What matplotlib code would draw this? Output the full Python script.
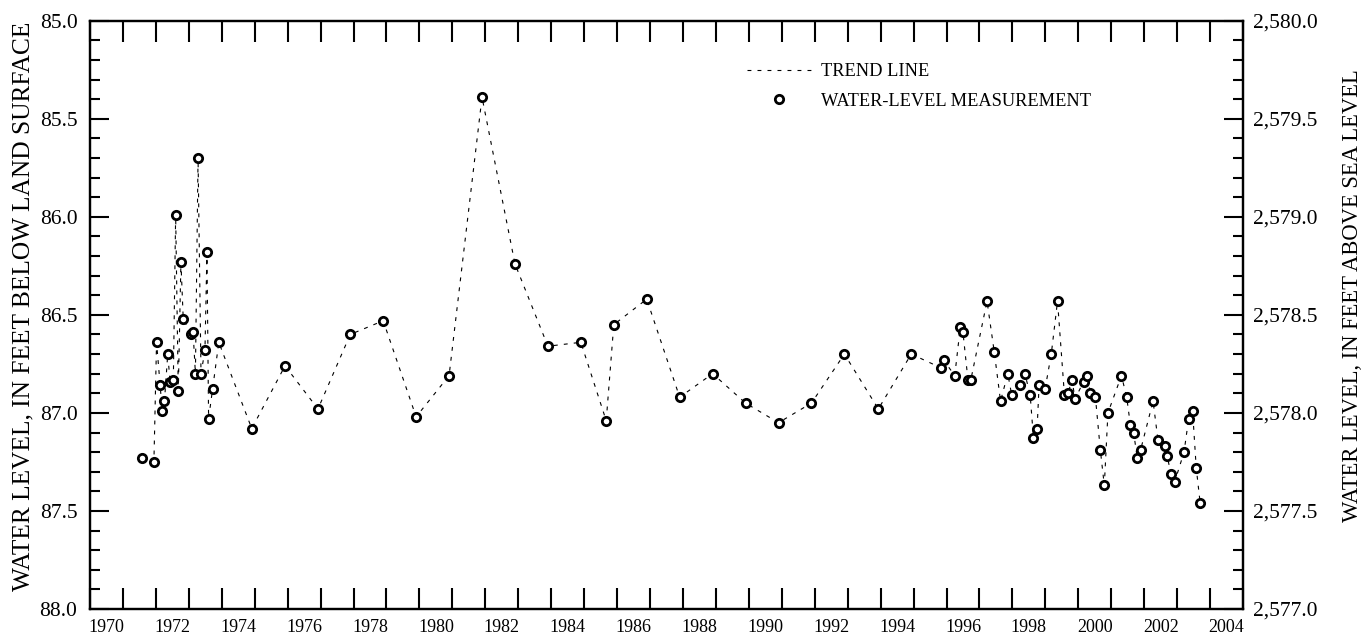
import matplotlib
matplotlib.use('Agg')
import matplotlib.pyplot as plt
from matplotlib.ticker import MultipleLocator, FuncFormatter

plt.rcParams['font.family'] = 'Liberation Serif'

# measurement dates (decimal years) and depth to water (ft below land surface)
dec_year = [1971.58, 1971.94, 1972.02, 1972.13, 1972.19, 1972.26, 1972.36, 1972.43,
            1972.53, 1972.60, 1972.68, 1972.76, 1972.83, 1973.07, 1973.13, 1973.20,
            1973.28, 1973.37, 1973.49, 1973.55, 1973.60, 1973.72, 1973.91, 1974.91,
            1975.92, 1976.92, 1977.90, 1978.90, 1979.90, 1980.90, 1981.90, 1982.90,
            1983.90, 1984.90, 1985.67, 1985.90, 1986.90, 1987.90, 1988.90, 1989.90,
            1990.90, 1991.90, 1992.90, 1993.93, 1994.93,
            1995.83, 1995.91, 1996.25, 1996.42, 1996.50, 1996.65, 1996.74, 1997.23,
            1997.45, 1997.64, 1997.86, 1997.98, 1998.24, 1998.38, 1998.54, 1998.64,
            1998.75, 1998.81, 1998.99, 1999.18, 1999.37, 1999.58, 1999.69, 1999.81,
            1999.90, 2000.16, 2000.27, 2000.37, 2000.52, 2000.67, 2000.79, 2000.90,
            2001.31, 2001.47, 2001.58, 2001.68, 2001.79, 2001.89, 2002.27, 2002.42,
            2002.62, 2002.70, 2002.81, 2002.93, 2003.21, 2003.35, 2003.47, 2003.58,
            2003.70]
depth_ft = [87.23, 87.25, 86.64, 86.86, 86.99, 86.94, 86.70, 86.84,
            86.83, 85.99, 86.89, 86.23, 86.52, 86.60, 86.59, 86.80,
            85.70, 86.80, 86.68, 86.18, 87.03, 86.88, 86.64, 87.08,
            86.76, 86.98, 86.60, 86.53, 87.02, 86.81, 85.39, 86.24,
            86.66, 86.64, 87.04, 86.55, 86.42, 86.92, 86.80, 86.95,
            87.05, 86.95, 86.70, 86.98, 86.70,
            86.77, 86.73, 86.81, 86.56, 86.59, 86.83, 86.83, 86.43,
            86.69, 86.94, 86.80, 86.91, 86.86, 86.80, 86.91, 87.13,
            87.08, 86.86, 86.88, 86.70, 86.43, 86.91, 86.90, 86.83,
            86.93, 86.84, 86.81, 86.90, 86.92, 87.19, 87.37, 87.00,
            86.81, 86.92, 87.06, 87.10, 87.23, 87.19, 86.94, 87.14,
            87.17, 87.22, 87.31, 87.35, 87.20, 87.03, 86.99, 87.28,
            87.46]
land_surface_alt = 2665.0
label_years = list(range(1970, 2005, 2))

fig = plt.figure(figsize=(13.64, 6.38), dpi=100)
ax = fig.add_axes([90 / 1364, 1 - 609 / 638, (1243 - 90) / 1364, (609 - 20.7) / 638])

trend, = ax.plot(dec_year, depth_ft, color='black', lw=0.8, linestyle=(0, (3.5, 5.5)))
meas, = ax.plot(dec_year, depth_ft, linestyle='none', marker='o', ms=6,
                mfc='white', mec='black', mew=2.0)

ax.set_xlim(1970, 2005)
ax.set_ylim(88, 85)

# year tick marks, labels centred in the year
ax.set_xticks(range(1970, 2006))
ax.set_xticklabels([])
ax.set_xticks([y + 0.5 for y in label_years], minor=True)
ax.set_xticklabels([str(y) for y in label_years], minor=True)
ax.tick_params(axis='x', which='major', direction='in', length=15, width=1.5,
               top=True, bottom=True)
ax.tick_params(axis='x', which='minor', length=0, pad=7, labelsize=13)

ax.yaxis.set_major_locator(MultipleLocator(0.5))
ax.yaxis.set_minor_locator(MultipleLocator(0.1))
ax.yaxis.set_major_formatter(FuncFormatter(lambda v, p: f'{v:.1f}'))
ax.tick_params(axis='y', which='major', direction='in', length=14, width=1.5,
               labelsize=15.5, pad=9)
ax.tick_params(axis='y', which='minor', direction='in', length=7, width=1.5)

for s in ax.spines.values():
    s.set_linewidth(1.6)

ax.set_ylabel('WATER LEVEL, IN FEET BELOW LAND SURFACE', fontsize=18.3, labelpad=10)
ax.yaxis.set_label_coords(-0.048, 0.515)

ax2 = ax.twinx()
ax2.set_ylim(land_surface_alt - 88, land_surface_alt - 85)
ax2.yaxis.set_major_locator(MultipleLocator(0.5))
ax2.yaxis.set_minor_locator(MultipleLocator(0.1))
ax2.yaxis.set_major_formatter(FuncFormatter(lambda v, p: f'{v:,.1f}'))
ax2.tick_params(axis='y', which='major', direction='in', length=14, width=1.5,
                labelsize=15.5, pad=7)
ax2.tick_params(axis='y', which='minor', direction='in', length=7, width=1.5)
ax2.set_ylabel('WATER LEVEL, IN FEET ABOVE SEA LEVEL', fontsize=16.3, labelpad=12)
ax2.yaxis.set_label_coords(1.086, 0.532)
for s in ax2.spines.values():
    s.set_linewidth(1.6)

ax.legend([trend, meas], ['TREND LINE', 'WATER-LEVEL MEASUREMENT'],
          loc='upper left', bbox_to_anchor=(747 / 1364, 1 - 63 / 638),
          bbox_transform=fig.transFigure, frameon=False, fontsize=13.2,
          handlelength=3.5, handletextpad=0.55, borderpad=0, borderaxespad=0,
          labelspacing=0.7)

fig.savefig('out.png', dpi=100)
